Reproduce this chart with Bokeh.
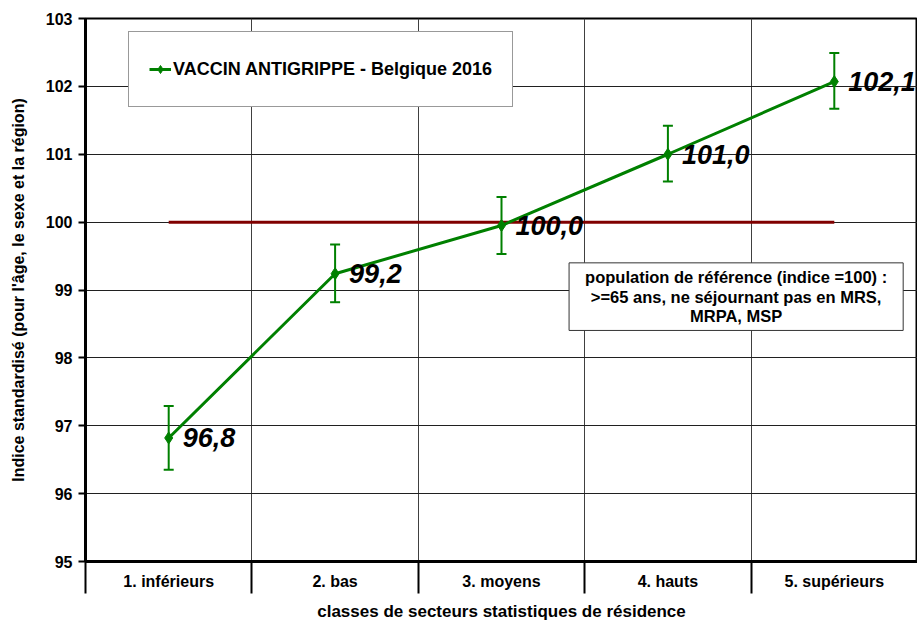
from bokeh.plotting import figure
from bokeh.models import (ColumnDataSource, FixedTicker, Whisker, TeeHead, Label,
                          Legend, LegendItem)
from bokeh.core.properties import value
from bokeh.embed import file_html
from bokeh.resources import INLINE

# ---- data ----
categories = ["1. inférieurs", "2. bas", "3. moyens", "4. hauts", "5. supérieurs"]
values = [96.82, 99.24, 99.95, 101.0, 102.07]
lower = [96.35, 98.82, 99.53, 100.60, 101.67]
upper = [97.29, 99.67, 100.37, 101.42, 102.49]
value_labels = ["96,8", "99,2", "100,0", "101,0", "102,1"]
reference = 100
y_ticks = [95, 96, 97, 98, 99, 100, 101, 102, 103]
series_name = "VACCIN ANTIGRIPPE - Belgique 2016"
y_title = "Indice standardisé (pour l'âge, le sexe et la région)"
x_title = "classes de secteurs statistiques de résidence"
note = "population de référence (indice =100) :\n>=65 ans, ne séjournant pas en MRS,\nMRPA, MSP"

xs = list(range(1, len(categories) + 1))
bounds = [x + 0.5 for x in xs[:-1]]

FONT = "Liberation Sans"
GREEN = "#008000"

src = ColumnDataSource(dict(x=xs, y=values, lower=lower, upper=upper, lab=value_labels))

p = figure(width=917, height=623, x_range=(0.5, len(categories) + 0.5),
           y_range=(y_ticks[0], y_ticks[-1]),
           output_backend="svg", toolbar_location=None,
           min_border_left=85, min_border_right=0, min_border_top=18, min_border_bottom=60)

p.outline_line_color = "black"
p.outline_line_width = 2
p.background_fill_color = "white"
p.border_fill_color = "white"

# grids
p.xgrid.ticker = FixedTicker(ticks=bounds)
p.xgrid.grid_line_color = "#404040"
p.xgrid.grid_line_width = 1
p.ygrid.ticker = FixedTicker(ticks=y_ticks)
p.ygrid.grid_line_color = "#202020"
p.ygrid.grid_line_width = 1

# x axis
xa = p.xaxis[0]
xa.ticker = FixedTicker(ticks=xs, minor_ticks=[0.5] + bounds)
xa.major_label_overrides = {x: c for x, c in zip(xs, categories)}
xa.major_tick_out = 0
xa.major_tick_in = 0
xa.minor_tick_out = 32
xa.minor_tick_in = 0
xa.minor_tick_line_color = "black"
xa.minor_tick_line_width = 2
xa.axis_line_color = "black"
xa.axis_line_width = 3
xa.major_label_standoff = -21
xa.major_label_text_font = FONT
xa.major_label_text_font_style = "bold"
xa.major_label_text_font_size = "16px"
xa.major_label_text_color = "black"
xa.axis_label = x_title
xa.axis_label_text_font = FONT
xa.axis_label_text_font_style = "bold"
xa.axis_label_text_font_size = "17px"
xa.axis_label_text_color = "black"
xa.axis_label_standoff = 9

# y axis
ya = p.yaxis[0]
ya.ticker = FixedTicker(ticks=y_ticks)
ya.major_tick_out = 7
ya.major_tick_in = 0
ya.major_tick_line_color = "black"
ya.major_tick_line_width = 2
ya.minor_tick_out = 0
ya.minor_tick_in = 0
ya.axis_line_color = "black"
ya.axis_line_width = 3
ya.major_label_standoff = 6
ya.major_label_text_font = FONT
ya.major_label_text_font_style = "bold"
ya.major_label_text_font_size = "16px"
ya.major_label_text_color = "black"
ya.axis_label = y_title
ya.axis_label_text_font = FONT
ya.axis_label_text_font_style = "bold"
ya.axis_label_text_font_size = "16px"
ya.axis_label_text_color = "black"
ya.axis_label_standoff = 16

# reference line at 100
p.line(x=[xs[0], xs[-1]], y=[reference, reference], line_color="#800000", line_width=3)

# error bars
p.add_layout(Whisker(base="x", lower="lower", upper="upper", source=src,
                     line_color=GREEN, line_width=2,
                     upper_head=TeeHead(size=10, line_color=GREEN, line_width=2),
                     lower_head=TeeHead(size=10, line_color=GREEN, line_width=2)))

# series
lr = p.line("x", "y", source=src, line_color=GREEN, line_width=3)
sr = p.scatter("x", "y", source=src, marker="diamond", size=12,
               fill_color=GREEN, line_color=GREEN)

p.text("x", "y", text="lab", source=src, x_offset=14, text_baseline="middle",
       text_align="left", text_font=value(FONT), text_font_style="bold italic",
       text_font_size="27px", text_color="black")

legend = Legend(items=[LegendItem(label=series_name, renderers=[lr, sr])],
                location=(43, 454), orientation="vertical")
legend.border_line_color = "#333333"
legend.border_line_width = 1
legend.background_fill_color = "white"
legend.background_fill_alpha = 1
legend.label_text_font = FONT
legend.label_text_font_style = "bold"
legend.label_text_font_size = "18px"
legend.label_text_color = "black"
legend.glyph_width = 22
legend.glyph_height = 20
legend.label_standoff = 2
legend.padding = 20
legend.margin = 0
legend.label_height = 34
p.add_layout(legend, "center")

lab = Label(x=4.41, y=99.40, text=note,
            text_align="center", text_baseline="top",
            text_font=FONT, text_font_style="bold", text_font_size="16.5px",
            text_line_height=1.1,
            text_color="black", background_fill_color="white",
            border_line_color="#333333", border_line_width=1, padding=(16, 5))
p.add_layout(lab)

open("out.html", "w").write(file_html(p, INLINE))
